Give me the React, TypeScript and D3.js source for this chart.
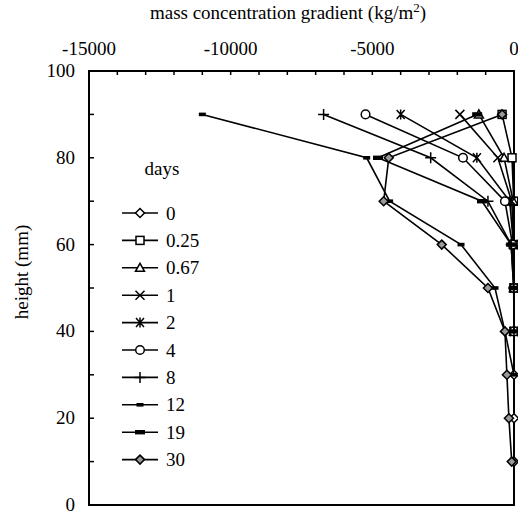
import React from "react";
import * as d3 from "d3";

// Heights (mm) at which the gradient was evaluated, top to bottom
const heights = [90, 80, 70, 60, 50, 40, 30, 20, 10];

// Series labels (days)
const days = ["0", "0.25", "0.67", "1", "2", "4", "8", "12", "19", "30"];

// Mass concentration gradient (kg/m2) per series, aligned with `heights`
// (null = no value at that height)
const g0 = [null, null, 0, 0, 0, 0, 0, 0, 0];
const g025 = [-420, -70, -10, 0, 0, 0, null, null, null];
const g067 = [-1240, -350, -30, 0, 0, 0, null, null, null];
const g1 = [-1910, -570, -80, -10, 0, 0, null, null, null];
const g2 = [-4000, -1310, -150, -20, 0, 0, null, null, null];
const g4 = [-5240, -1800, -320, -50, 0, 0, null, null, null];
const g8 = [-6720, -2940, -920, -100, -10, 0, null, null, null];
const g12 = [-11000, -5200, -4390, -1870, -670, -320, 0, null, null];
const g19 = [-1300, -4800, -1130, -100, -10, 0, null, null, null];
const g30 = [-420, -4420, -4600, -2550, -920, -320, -250, -180, -80];

const seriesValues = [g0, g025, g067, g1, g2, g4, g8, g12, g19, g30];

// Marker shape per series
const markers = ["diamond", "square", "triangle", "x", "asterisk", "circle", "plus", "dash", "bar", "diamondFill"];

// Axis ticks
const xTickLabels = [-15000, -10000, -5000, 0];
const yTickLabels = [0, 20, 40, 60, 80, 100];

const W = 518;
const H = 515;
const FONT = "Liberation Serif, Times New Roman, Times, serif";

function Marker({ type, x, y }: { type: string; x: number; y: number }) {
  const sw = 1.5;
  switch (type) {
    case "diamond":
      return (
        <path d={`M${x},${y - 4.5}L${x + 4.5},${y}L${x},${y + 4.5}L${x - 4.5},${y}Z`} fill="#fff" stroke="#000" strokeWidth={sw} />
      );
    case "diamondFill":
      return (
        <path d={`M${x},${y - 4.5}L${x + 4.5},${y}L${x},${y + 4.5}L${x - 4.5},${y}Z`} fill="#9a9a9a" stroke="#000" strokeWidth={sw} />
      );
    case "square":
      return <rect x={x - 4} y={y - 4} width={8} height={8} fill="#fff" stroke="#000" strokeWidth={sw} />;
    case "triangle":
      return <path d={`M${x},${y - 4.5}L${x + 4.5},${y + 3.5}L${x - 4.5},${y + 3.5}Z`} fill="#fff" stroke="#000" strokeWidth={sw} />;
    case "x":
      return <path d={`M${x - 4.5},${y - 4.5}L${x + 4.5},${y + 4.5}M${x - 4.5},${y + 4.5}L${x + 4.5},${y - 4.5}`} stroke="#000" strokeWidth={sw} />;
    case "asterisk":
      return (
        <path
          d={`M${x - 4},${y - 4.5}L${x + 4},${y + 4.5}M${x - 4},${y + 4.5}L${x + 4},${y - 4.5}M${x},${y - 5}L${x},${y + 5}`}
          stroke="#000"
          strokeWidth={sw}
        />
      );
    case "circle":
      return <circle cx={x} cy={y} r={4.3} fill="#fff" stroke="#000" strokeWidth={sw} />;
    case "plus":
      return <path d={`M${x - 5.5},${y}L${x + 5.5},${y}M${x},${y - 5.5}L${x},${y + 5.5}`} stroke="#000" strokeWidth={sw} />;
    case "dash":
      return <rect x={x - 3.5} y={y - 1.8} width={7} height={3.6} fill="#000" />;
    case "bar":
      return <rect x={x - 5} y={y - 2.2} width={10} height={4.4} fill="#000" />;
    default:
      return null;
  }
}

export default function App() {
  const x = d3.scaleLinear().domain([-15000, 0]).range([89, 514]);
  const y = d3.scaleLinear().domain([0, 100]).range([505, 71]);

  const line = d3
    .line<[number, number]>()
    .x((d) => x(d[0]))
    .y((d) => y(d[1]));

  const xMinor = d3.range(-14000, 0, 1000);
  const yMinor = d3.range(10, 100, 10);

  const legendX = 140;
  const legendY0 = 213;
  const legendStep = 27.4;
  const textStyle = { fontFamily: FONT };

  return (
    <svg width={W} height={H} style={{ position: "absolute", left: 0, top: 0, background: "#fff", fontFamily: FONT }}>
      {/* axis title on top */}
      <text x={288} y={19} textAnchor="middle" fontSize={19} style={textStyle}>
        mass concentration gradient (kg/m<tspan dy={-7} fontSize={13}>2</tspan>
        <tspan dy={7}>)</tspan>
      </text>

      {/* top tick labels */}
      {xTickLabels.map((v) => (
        <text key={v} x={x(v)} y={55} textAnchor="middle" fontSize={19} style={textStyle}>
          {v}
        </text>
      ))}

      {/* left tick labels */}
      {yTickLabels.map((v) => (
        <text key={v} x={75} y={y(v) + 6} textAnchor="end" fontSize={19} style={textStyle}>
          {v}
        </text>
      ))}

      <text transform="translate(28,272) rotate(-90)" textAnchor="middle" fontSize={19} style={textStyle}>
        height (mm)
      </text>

      {/* ticks, pointing inward */}
      {xMinor.map((v) => (
        <line key={v} x1={x(v)} x2={x(v)} y1={y(100)} y2={y(100) + 4} stroke="#000" strokeWidth={1.5} />
      ))}
      {yMinor.map((v) => (
        <line key={v} x1={x(-15000)} x2={x(-15000) + 5} y1={y(v)} y2={y(v)} stroke="#000" strokeWidth={1.5} />
      ))}

      {/* frame */}
      <rect x={x(-15000)} y={y(100)} width={x(0) - x(-15000)} height={y(0) - y(100)} fill="none" stroke="#000" strokeWidth={2} />

      {/* data series */}
      {seriesValues.map((vals, i) => {
        const pts: [number, number][] = [];
        vals.forEach((v, j) => {
          if (v !== null) pts.push([v as number, heights[j]]);
        });
        return (
          <g key={days[i]}>
            <path d={line(pts) || ""} fill="none" stroke="#000" strokeWidth={1.6} />
            {pts.map((p, k) => (
              <Marker key={k} type={markers[i]} x={x(p[0])} y={y(p[1])} />
            ))}
          </g>
        );
      })}

      {/* legend */}
      <text x={162} y={175} textAnchor="middle" fontSize={19} style={textStyle}>
        days
      </text>
      {days.map((d, i) => {
        const ly = legendY0 + i * legendStep;
        return (
          <g key={d}>
            <line x1={legendX - 18} x2={legendX + 18} y1={ly} y2={ly} stroke="#000" strokeWidth={1.6} />
            <Marker type={markers[i]} x={legendX} y={ly} />
            <text x={166} y={ly + 6.5} fontSize={19} style={textStyle}>
              {d}
            </text>
          </g>
        );
      })}
    </svg>
  );
}
